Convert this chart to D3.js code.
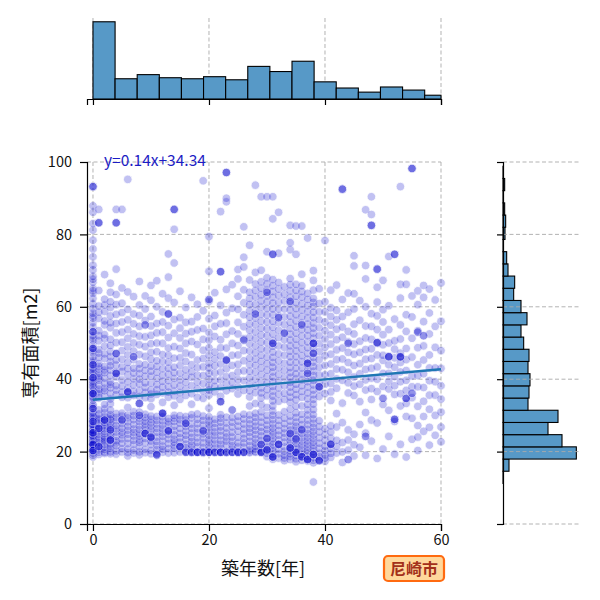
<!DOCTYPE html>
<html>
<head>
<meta charset="utf-8">
<script src="https://cdn.jsdelivr.net/npm/d3@7"></script>
<style>
  body { margin: 0; background: #fff; }
  text { font-family: "Noto Sans CJK JP", "Noto Sans", sans-serif; }
</style>
</head>
<body>
<div id="vis"></div>
<script>
// data
// areas (m2) for each integer building age 0..60
const AREA_BY_AGE = [
  [18.5,19.0,19.6,20.0,20.3,20.8,21.0,21.5,21.8,22.0,22.5,22.8,23.1,23.4,23.9,24.1,24.3,24.6,25.2,25.7,25.9,26.0,26.8,27.0,27.3,27.5,28.3,28.8,29.1,29.5,30.0,30.4,30.8,31.9,32.5,33.0,34.2,34.8,35.1,36.0,36.5,36.9,37.8,38.0,38.6,39.0,39.5,40.0,40.4,41.3,41.8,42.2,42.7,43.1,44.0,44.6,45.2,46.1,47.3,47.9,48.5,49.6,50.8,51.4,52.0,53.1,54.4,55.6,56.9,57.5,58.2,59.5,60.8,62.3,63.7,64.4,65.1,66.8,67.6,68.4,70.2,71.5,73.8,76.0,78.4,81.2,83.0,86.1,87.9,93.2],
  [19.2,19.8,20.5,21.0,21.4,22.2,22.6,23.3,24.1,24.8,25.5,26.0,26.4,27.1,27.7,28.6,28.9,29.3,30.4,31.5,34.8,35.9,36.5,37.2,38.4,39.7,40.3,40.9,41.6,42.8,43.5,44.3,46.0,47.2,48.2,50.6,52.0,53.4,56.8,58.5,60.2,64.5,83.2,86.9],
  [19.5,19.8,20.6,21.2,22.0,22.7,23.1,23.5,24.0,25.0,25.6,26.3,26.9,27.3,28.1,29.0,29.6,30.7,31.8,35.4,36.8,37.5,38.9,40.3,41.8,42.5,43.5,45.7,47.0,49.1,51.2,52.3,55.0,56.1,58.7,60.5,62.1,68.9],
  [19.4,19.9,20.9,21.5,22.1,23.0,23.8,24.4,25.1,26.0,26.6,27.3,27.9,28.7,29.0,29.6,30.2,33.2,34.5,36.1,37.6,38.5,39.2,41.0,42.5,43.7,44.8,46.2,47.6,49.3,51.0,54.2,55.6,57.5,59.8,61.4,64.0,66.5],
  [19.3,20.2,21.6,22.4,23.0,24.2,25.4,26.3,27.2,28.5,29.4,30.5,35.7,37.0,38.2,40.6,42.0,43.9,45.3,47.0,50.1,52.8,55.4,57.9,60.6,63.4,70.4,83.2,86.9],
  [19.9,20.8,22.3,23.5,24.6,25.4,26.5,27.7,28.9,29.8,30.6,35.0,36.4,38.1,39.8,42.1,43.4,45.5,47.9,50.2,53.0,55.8,58.4,61.0,65.2,86.9],
  [18.8,19.7,20.7,22.2,23.6,24.8,25.9,27.0,28.2,29.3,30.1,34.9,36.2,37.5,39.3,41.2,42.9,44.6,46.7,48.9,51.3,53.7,56.4,59.3,64.1,95.2],
  [19.6,20.4,22.0,23.1,24.3,25.3,26.2,27.5,28.8,29.9,31.0,35.5,36.6,38.4,40.1,41.7,43.0,45.4,47.8,50.0,52.5,55.3,58.0,62.8],
  [19.1,19.9,21.3,22.5,23.2,24.3,25.0,26.1,27.1,28.3,29.2,30.9,35.2,36.9,38.7,40.0,41.5,42.9,44.2,46.8,49.5,51.9,54.6,57.6,60.5,67.0],
  [19.7,20.6,22.4,23.6,24.9,25.8,26.7,27.6,28.4,29.4,30.3,34.9,36.3,37.7,39.0,40.8,42.4,44.0,46.3,49.0,51.7,56.2,59.4,63.0],
  [19.4,20.3,21.9,22.9,23.7,25.0,26.1,27.0,28.0,28.9,29.8,34.6,35.9,37.0,38.9,40.8,42.2,43.6,45.5,47.4,49.8,52.1,54.7,57.3,61.8,65.9],
  [19.5,20.5,21.7,22.8,24.0,25.3,26.4,27.6,28.6,29.7,35.8,37.1,38.5,40.2,41.9,43.5,45.1,47.6,50.0,52.8,55.4,60.0,67.2],
  [19.8,20.6,21.5,22.9,24.2,25.2,26.3,27.3,28.5,29.6,30.5,36.2,37.8,39.4,41.1,42.9,44.9,46.8,49.9,53.0,55.8,58.6,63.6],
  [19.6,20.8,22.2,23.5,24.7,26.0,27.4,28.2,29.1,35.0,36.4,37.9,39.6,41.4,43.0,44.7,46.6,48.6,51.5,54.8,58.1,62.4,68.2,74.6],
  [19.7,20.9,21.7,22.6,23.4,24.6,25.8,27.0,28.3,29.2,30.0,35.4,36.7,38.4,40.2,41.8,43.3,45.8,49.0,52.7,56.5,61.2,72.1,81.4,86.9],
  [19.9,21.2,22.6,23.8,25.0,26.4,27.8,28.8,29.9,34.4,36.3,38.1,39.8,41.7,43.8,45.9,48.5,51.4,54.1,57.0,64.3],
  [19.8,20.1,21.1,22.0,23.4,24.5,25.7,26.9,27.8,28.7,29.7,35.5,37.2,39.1,40.8,42.6,44.9,47.2,49.9,52.6,55.7,59.8],
  [19.7,20.0,20.9,21.8,22.8,23.9,25.1,26.4,27.6,29.3,30.2,36.0,38.2,40.5,42.1,44.0,46.8,50.4,53.1,55.9,62.6],
  [19.8,19.9,21.3,22.5,23.8,25.2,26.3,27.7,28.9,30.4,35.0,37.3,39.2,41.1,43.2,45.3,49.6,53.6,57.2,60.7],
  [19.6,20.0,21.1,22.4,23.8,24.9,26.0,27.3,28.6,29.8,34.7,36.7,38.8,41.0,43.4,45.7,48.0,51.0,54.0,58.9,94.8],
  [19.8,19.9,20.6,21.4,22.5,23.3,24.5,25.5,26.6,27.5,28.5,29.6,35.6,37.0,38.3,40.0,41.6,43.1,44.5,46.6,48.7,50.8,52.9,56.7,61.5,69.8,79.4],
  [19.7,20.0,21.0,22.1,23.2,24.4,25.4,26.6,27.8,28.9,36.5,38.0,39.6,41.7,43.7,45.6,47.5,51.8,54.6,57.6,63.9],
  [19.8,19.9,21.0,22.0,23.1,24.4,25.7,26.8,28.1,29.2,30.2,35.3,37.7,39.8,42.0,44.2,46.4,48.7,50.9,55.3,60.4,69.7,86.3],
  [19.7,20.0,21.8,22.9,24.0,25.1,26.5,27.9,29.5,36.8,38.8,40.7,42.9,45.0,48.6,52.4,55.5,58.4,64.8,89.0,90.0,97.1],
  [19.8,19.9,20.8,21.6,22.8,24.0,25.3,26.8,28.1,29.4,37.4,39.2,41.0,43.8,46.6,49.9,53.3,59.6,66.1],
  [19.6,20.0,21.3,22.4,23.9,25.6,27.0,28.4,29.7,35.9,37.9,39.9,42.0,44.1,46.7,49.3,52.5,55.7,59.3,62.9,67.7,70.3],
  [19.8,19.9,21.2,22.4,23.6,24.9,26.2,27.6,29.0,30.3,36.9,39.6,42.3,45.1,47.9,51.2,54.5,57.8,61.1,64.7,71.0,73.7,82.1],
  [19.7,19.9,20.4,21.6,22.8,24.1,25.3,26.4,27.6,28.8,30.1,32.6,35.1,36.8,38.6,40.4,42.2,44.0,45.8,47.8,49.8,51.6,53.5,55.3,57.1,58.9,60.6,62.3,64.0,67.4,77.0],
  [19.8,20.0,20.7,21.5,22.4,23.5,24.7,25.9,27.0,28.2,29.4,30.6,33.3,36.3,38.1,40.0,41.9,43.8,45.5,47.3,49.2,51.2,53.1,55.1,56.9,58.8,60.7,62.7,64.5,66.3,69.5,93.6],
  [19.7,20.1,21.0,21.9,23.1,24.3,25.5,26.7,28.1,29.5,31.0,33.0,34.8,36.2,37.6,39.4,41.3,43.1,44.9,46.6,48.4,50.3,52.2,54.1,56.0,57.9,59.9,61.6,63.3,65.1,66.9,70.1,90.4],
  [18.6,19.5,20.2,21.3,22.6,23.8,25.0,26.1,27.3,28.6,30.0,32.2,35.4,37.1,38.9,40.7,42.5,44.3,46.1,48.1,50.1,52.0,53.9,55.8,57.7,59.5,61.3,63.0,64.6,66.3,68.0,75.2,90.4],
  [17.9,18.6,19.3,20.1,21.0,21.8,22.7,23.6,24.6,25.5,26.5,27.6,28.8,30.0,31.2,32.6,34.0,35.3,36.7,38.0,39.3,40.6,42.0,43.3,44.6,46.0,47.5,49.1,50.7,52.5,54.3,56.0,57.8,59.4,61.0,62.6,64.2,65.8,67.5,74.5,84.3,90.4],
  [18.2,19.4,20.6,21.9,23.2,24.5,25.8,27.2,28.6,30.1,33.9,35.8,37.6,39.5,41.3,43.2,45.1,47.0,49.2,51.5,53.5,55.6,57.5,59.4,61.2,63.1,64.9,66.7,74.8,86.1],
  [17.5,18.2,19.0,20.1,21.3,22.6,23.9,25.1,26.3,27.7,29.2,31.0,34.4,36.1,38.2,40.4,42.4,44.4,46.6,48.8,50.9,53.0,55.1,57.2,59.4,61.6,63.5,65.5],
  [17.8,18.6,19.4,20.2,21.1,22.0,23.0,23.9,24.9,25.9,27.0,28.4,29.8,31.7,33.6,35.0,36.4,37.8,39.1,40.5,41.8,43.2,44.7,46.2,47.7,49.2,50.8,52.4,54.0,55.7,57.4,59.1,60.8,62.6,64.4,66.1,67.8,75.8,77.7,82.5],
  [17.2,18.0,18.9,19.7,20.5,21.3,22.2,23.1,24.1,25.0,26.0,27.0,28.1,29.4,30.7,32.5,34.3,35.7,37.2,38.6,40.1,41.5,43.0,44.6,46.2,47.8,49.4,51.0,52.7,54.4,56.1,57.8,59.5,61.2,62.9,64.5,66.2,74.5,82.3],
  [17.6,18.4,19.2,20.0,20.9,21.9,22.9,23.9,25.0,26.2,27.4,28.8,30.3,32.6,35.0,36.6,38.2,39.8,41.4,43.1,44.8,46.5,48.3,50.1,51.9,53.7,55.5,57.3,59.1,60.8,62.6,64.2,65.8,69.0,82.3],
  [17.4,18.0,18.7,19.5,20.3,21.2,22.1,23.0,24.0,25.0,26.1,27.4,28.7,30.1,31.5,33.0,34.6,36.2,37.8,39.3,40.9,42.4,43.9,45.5,47.1,48.7,50.3,52.0,53.6,55.2,56.9,58.6,60.3,62.0,63.7,79.0],
  [11.6,16.9,17.6,18.3,19.1,19.9,20.8,21.7,22.6,23.6,24.6,25.6,26.7,27.8,29.0,30.2,31.6,33.1,34.4,35.7,37.0,38.4,39.7,41.0,42.2,43.5,44.7,46.0,47.3,48.6,49.9,51.3,52.7,54.1,55.5,57.0,58.5,60.1,61.2,62.3,64.6,67.3,70.0],
  [17.8,18.6,19.5,20.9,22.3,23.8,25.4,26.9,28.5,35.2,37.1,39.0,41.2,43.3,45.4,47.6,49.8,52.0,54.2,56.4,58.6,60.9,65.0],
  [17.3,18.2,19.1,20.3,21.5,23.1,24.7,26.3,36.0,38.6,41.2,43.8,46.5,48.8,51.1,53.4,55.8,58.6,61.4,78.3],
  [18.4,19.5,20.8,22.2,23.7,25.4,27.1,34.1,36.5,38.8,41.5,44.2,46.9,49.7,52.3,54.9,57.3,59.7,64.6],
  [19.6,21.4,23.1,26.8,30.5,37.5,40.1,42.8,45.4,48.1,50.9,53.8,56.4,59.0,66.0],
  [17.0,19.9,22.5,28.0,33.4,39.7,42.6,45.6,48.6,51.6,54.4,57.3,62.0,92.5],
  [20.4,23.2,26.0,36.2,39.0,41.9,44.6,47.4,50.3,53.2,58.5,63.8],
  [18.8,21.9,24.8,35.5,38.1,40.6,43.8,46.9,49.7,52.5,55.2,59.4,63.6,71.3,74.1],
  [21.2,27.5,33.8,38.6,41.5,44.3,47.4,50.5,56.3,61.7],
  [19.0,25.1,30.8,37.0,39.8,42.7,45.5,48.2,51.4,54.7,60.0,67.7,71.4,86.8],
  [22.9,28.7,34.4,37.4,40.3,43.0,45.7,48.4,51.0,54.6,58.1,82.5,85.5,90.4],
  [18.1,27.9,36.6,40.0,43.4,46.7,49.9,53.7,57.5,61.3,65.4,70.4],
  [20.7,33.0,38.0,41.6,45.2,46.6,49.5,52.3,55.8,59.2,67.3],
  [24.2,31.4,37.3,39.4,41.6,44.0,46.3,50.0,53.7,60.3,73.9],
  [19.3,28.3,35.8,38.2,40.7,43.3,45.9,48.3,50.6,56.6,74.5],
  [22.0,32.6,36.0,39.3,42.0,44.6,46.0,47.2,51.1,55.0,62.4,66.2,93.2],
  [18.5,29.7,33.3,36.9,39.7,42.4,45.4,48.5,53.2,57.8,66.2,70.2],
  [23.4,29.2,34.9,37.9,40.9,46.1,51.3,57.2,63.0,98.2],
  [20.3,24.0,27.2,32.5,37.9,41.0,44.0,48.7,53.4,60.6,64.4],
  [25.6,29.7,33.9,37.7,41.5,45.3,49.2,55.9,62.6,65.9],
  [21.8,26.7,31.7,35.6,39.6,43.1,46.7,52.5,58.3,64.9],
  [24.5,30.0,35.6,39.3,43.1,48.8,54.6,61.9],
  [22.7,26.8,30.9,34.5,38.2,43.0,47.9,56.0,66.6]
];

// units sharing the same age and area (dark spots): [age, area, count]
const STACKED_UNITS = [
  [0,22.0,3],[0,25.2,3],[0,28.3,2],[0,31.9,2],[0,36.0,3],[0,40.4,2],[0,44.0,2],[0,48.5,2],[0,53.1,2],[0,20.3,3],
  [1,21.4,2],[1,26.4,2],[2,28.7,3],[2,33.0,1],[3,26.0,2],[3,23.2,3],[4,41.6,3],[4,47.1,2],[5,28.7,2],[6,36.5,3],
  [7,46.2,2],[8,33.3,3],[8,30.0,2],[9,25.0,3],[10,24.0,3],[10,32.4,1],[11,19.1,3],[12,30.6,3],[13,25.7,3],[14,32.8,1],
  [15,21.4,3],[16,27.8,2],[16,19.8,2],[17,19.8,2],[18,19.8,3],[19,19.8,2],[20,19.8,3],[21,19.8,2],[22,19.8,3],[23,19.8,2],
  [24,19.8,2],[25,19.8,3],[26,19.8,2],[19,25.7,2],[22,33.8,3],[24,31.5,2],[23,45.3,3],[26,50.8,2],[20,32.0,1],[17,33.1,1],
  [12,33.6,1],[6,32.2,1],[3,31.5,1],[29,19.8,3],[29,22.0,2],[30,20.5,3],[30,23.6,2],[31,18.5,3],[31,49.9,3],[32,22.0,3],
  [33,52.7,2],[35,19.8,3],[36,18.6,3],[37,17.8,3],[38,49.9,3],[38,47.1,2],[37,44.4,3],[37,41.6,2],[38,19.2,3],[39,17.5,3],
  [39,37.9,3],[34,21.0,3],[34,25.0,2],[35,23.5,2],[36,26.0,2],[32,57.0,2],[34,61.5,2],[30,64.0,2],[36,55.0,2],[41,22.0,3],
  [44,17.8,2],[44,49.9,2],[47,24.2,2],[49,50.1,3],[51,46.2,3],[53,46.2,3],[50,34.7,2],[54,34.7,3],[52,28.9,3],[55,36.1,2],
  [56,53.0,2],[57,52.0,2],[43,92.5,2],[0,93.2,2],[1,83.2,2],[4,83.2,2],[23,97.1,2],[55,98.2,2],[48,82.5,2],[52,74.5,2],
  [31,74.5,2],[49,70.4,2],[22,69.7,2],[14,86.9,2],[20,62.0,2],[13,58.0,2],[9,55.0,2],[28,58.0,2]
];

// marginal histogram of age (bins of 3.8125 years from 0)
const AGE_BIN_WIDTH = 3.8125;
const AGE_COUNTS = [450, 118, 142, 124, 118, 130, 112, 190, 160, 220, 100, 64, 40, 70, 52, 22];

// marginal histogram of area (bins of 3.37 m2 from 11.2)
const AREA_BIN_START = 11.2;
const AREA_BIN_WIDTH = 3.37;
const AREA_COUNTS = [2, 36, 440, 354, 270, 330, 150, 156, 162, 150, 156, 124, 108, 144, 108, 64, 70, 30, 22, 2, 12, 16, 10, 2, 10, 2];

// regression y = a x + b
const REG_SLOPE = 0.14;
const REG_INTERCEPT = 34.34;

const X_TICKS = [0, 20, 40, 60];
const Y_TICKS = [0, 20, 40, 60, 80, 100];
const CITY = "尼崎市";

// flatten into points
const points = [];
AREA_BY_AGE.forEach((areas, age) => {
  areas.forEach(a => points.push({age: age, area: a}));
});
STACKED_UNITS.forEach(([age, area, n]) => {
  for (let k = 0; k < n; k++) points.push({age: age, area: area});
});

const FRAME = d3.select('#vis')
                .append('svg')
                .attr('width', 600)
                .attr('height', 600);

// scales
const x = d3.scaleLinear().domain([-1.03, 60]).range([87, 441]);
const y = d3.scaleLinear().domain([0, 100]).range([524, 162]);
const yTop = d3.scaleLinear().domain([0, 472]).range([99, 18]);
const xRight = d3.scaleLinear().domain([0, 462]).range([503, 580]);

const GRID = '#aaaaaa';
const DASH = '4,2.5';

// ---- top histogram ----
FRAME.append('g')
     .selectAll('line')
     .data(X_TICKS)
     .enter()
     .append('line')
       .attr('x1', d => x(d)).attr('x2', d => x(d))
       .attr('y1', 18).attr('y2', 99)
       .attr('stroke', GRID)
       .attr('stroke-width', 0.9)
       .attr('stroke-dasharray', DASH);

FRAME.append('g')
     .selectAll('rect')
     .data(AGE_COUNTS)
     .enter()
     .append('rect')
       .attr('x', (d, i) => x(i * AGE_BIN_WIDTH))
       .attr('y', d => yTop(d))
       .attr('width', (d, i) => Math.min(x((i + 1) * AGE_BIN_WIDTH), x(60)) - x(i * AGE_BIN_WIDTH))
       .attr('height', d => yTop(0) - yTop(d))
       .attr('fill', '#5799c7')
       .attr('stroke', '#000')
       .attr('stroke-width', 1.1);

FRAME.append('g')
     .attr('transform', 'translate(0,99)')
     .call(d3.axisBottom(x).tickValues(X_TICKS).tickFormat('').tickSizeOuter(0).tickSize(6))
     .call(g => g.select('.domain').attr('stroke-width', 1.2))
     .call(g => g.selectAll('.tick line').attr('stroke-width', 1.2));

// ---- right histogram ----
FRAME.append('g')
     .selectAll('rect')
     .data(AREA_COUNTS)
     .enter()
     .append('rect')
       .attr('x', xRight(0))
       .attr('y', (d, i) => y(AREA_BIN_START + (i + 1) * AREA_BIN_WIDTH))
       .attr('width', d => xRight(d) - xRight(0))
       .attr('height', (d, i) => y(AREA_BIN_START + i * AREA_BIN_WIDTH) - y(AREA_BIN_START + (i + 1) * AREA_BIN_WIDTH))
       .attr('fill', '#5799c7')
       .attr('stroke', '#000')
       .attr('stroke-width', 1.1);

FRAME.append('g')
     .selectAll('line')
     .data(Y_TICKS)
     .enter()
     .append('line')
       .attr('x1', 503).attr('x2', 580)
       .attr('y1', d => y(d)).attr('y2', d => y(d))
       .attr('stroke', GRID)
       .attr('stroke-width', 0.9)
       .attr('stroke-dasharray', DASH);

FRAME.append('g')
     .attr('transform', 'translate(503,0)')
     .call(d3.axisLeft(y).tickValues(Y_TICKS).tickFormat('').tickSizeOuter(0).tickSize(6))
     .call(g => g.select('.domain').attr('stroke-width', 1.2))
     .call(g => g.selectAll('.tick line').attr('stroke-width', 1.2));

// ---- main scatter ----
FRAME.append('g')
     .selectAll('line')
     .data(X_TICKS)
     .enter()
     .append('line')
       .attr('x1', d => x(d)).attr('x2', d => x(d))
       .attr('y1', 162).attr('y2', 524)
       .attr('stroke', GRID)
       .attr('stroke-width', 0.9)
       .attr('stroke-dasharray', DASH);

FRAME.append('g')
     .selectAll('line')
     .data(Y_TICKS)
     .enter()
     .append('line')
       .attr('x1', 87).attr('x2', 441)
       .attr('y1', d => y(d)).attr('y2', d => y(d))
       .attr('stroke', GRID)
       .attr('stroke-width', 0.9)
       .attr('stroke-dasharray', DASH);

FRAME.append('g')
     .selectAll('circle')
     .data(points)
     .enter()
     .append('circle')
       .attr('cx', d => x(d.age))
       .attr('cy', d => y(d.area))
       .attr('r', 4.3)
       .attr('fill', '#0000cd')
       .attr('stroke', '#fff')
       .attr('stroke-width', 0.8)
       .attr('opacity', 0.24);

// regression line
FRAME.append('line')
     .attr('x1', x(0)).attr('y1', y(REG_INTERCEPT))
     .attr('x2', x(60)).attr('y2', y(REG_SLOPE * 60 + REG_INTERCEPT))
     .attr('stroke', '#1f77b4')
     .attr('stroke-width', 2.4);

FRAME.append('text')
     .attr('x', 104)
     .attr('y', 166)
     .attr('font-size', '15.5px')
     .attr('fill', '#1c1cc4')
     .text('y=' + REG_SLOPE + 'x+' + REG_INTERCEPT);

// axes
FRAME.append('g')
     .attr('transform', 'translate(0,524)')
     .call(d3.axisBottom(x).tickValues(X_TICKS).tickSizeOuter(0).tickSize(7).tickPadding(4))
     .attr('font-size', '14.5px')
     .attr('font-family', '"Noto Sans CJK JP", sans-serif')
     .call(g => g.select('.domain').attr('stroke-width', 1.2))
     .call(g => g.selectAll('.tick line').attr('stroke-width', 1.2))
     .call(g => g.selectAll('.tick text').attr('fill', '#111'));

FRAME.append('g')
     .attr('transform', 'translate(87,0)')
     .call(d3.axisLeft(y).tickValues(Y_TICKS).tickSizeOuter(0).tickSize(7).tickPadding(8))
     .attr('font-size', '14.5px')
     .attr('font-family', '"Noto Sans CJK JP", sans-serif')
     .call(g => g.select('.domain').attr('stroke-width', 1.2))
     .call(g => g.selectAll('.tick line').attr('stroke-width', 1.2))
     .call(g => g.selectAll('.tick text').attr('fill', '#111'));

// axis labels
FRAME.append('text')
     .attr('x', 263)
     .attr('y', 575)
     .attr('text-anchor', 'middle')
     .attr('font-size', '18px')
     .attr('fill', '#111')
     .text('築年数[年]');

FRAME.append('text')
     .attr('transform', 'translate(37,343) rotate(-90)')
     .attr('text-anchor', 'middle')
     .attr('font-size', '18px')
     .attr('fill', '#111')
     .text('専有面積[m2]');

// city label
FRAME.append('rect')
     .attr('x', 384).attr('y', 556)
     .attr('width', 60).attr('height', 25)
     .attr('rx', 4)
     .attr('fill', '#ffd89c')
     .attr('stroke', '#ff6a10')
     .attr('stroke-width', 2.2);

FRAME.append('text')
     .attr('x', 414)
     .attr('y', 575)
     .attr('text-anchor', 'middle')
     .attr('font-size', '16px')
     .attr('font-weight', 'bold')
     .attr('fill', '#a3301a')
     .text(CITY);
</script>
</body>
</html>
